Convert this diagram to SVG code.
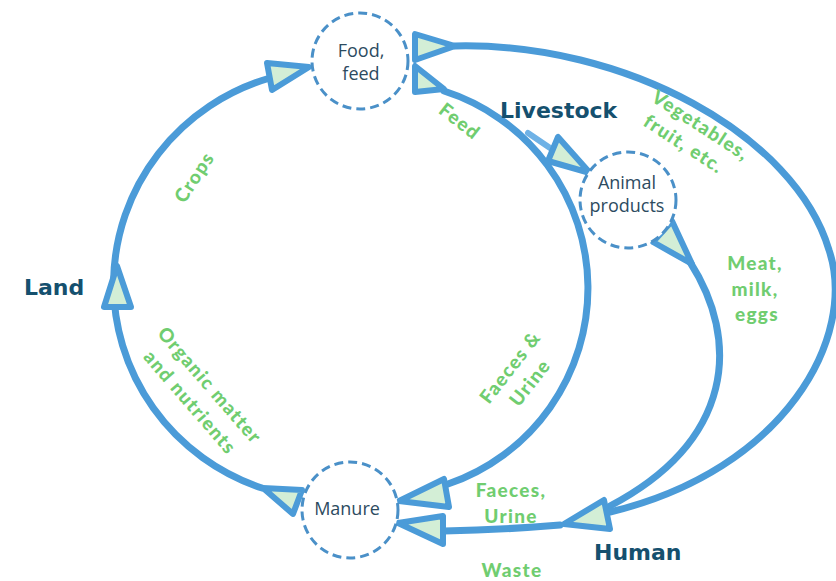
<svg xmlns="http://www.w3.org/2000/svg" width="836" height="581" viewBox="0 0 836 581">
<defs>
<style>
.conn{fill:none;stroke:#4b9bd8;stroke-width:7;stroke-linecap:round}
.branch{fill:none;stroke:#6fb2e6;stroke-width:6;stroke-linecap:round}
.head{fill:#d3eed6;stroke:#4b9bd8;stroke-width:6;stroke-linejoin:round}
.node circle{fill:#fff;stroke:#4a90c8;stroke-width:3;stroke-dasharray:9 5}
.nt{font-family:"Open Sans","DejaVu Sans",sans-serif;font-size:18px;fill:#2d4b5f;text-anchor:middle}
.lbl{font-family:Lato,"Liberation Sans",sans-serif;font-weight:900;font-size:19px;fill:#70cd70;text-anchor:middle;letter-spacing:1.3px}
.region{font-family:"DejaVu Sans",sans-serif;font-weight:bold;font-size:22px;fill:#15506e}
</style>
</defs>
<rect width="836" height="581" fill="#fff"/>
<g id="connectors">
<path class="conn" d="M262,488 A218,215 0 0 1 270,78"/>
<path class="conn" d="M444,91 A207,207 0 0 1 448,484"/>
<path class="branch" d="M528,133 L553,150"/>
<path class="conn" d="M690,262 C740,340 735,440 610,506"/>
<path class="conn" d="M455,46 C625,42 795,135 829,250 C858,337 785,470 610,512"/>
<path class="conn" d="M560,525 Q500,530 444,531"/>
<polygon class="head" points="267,63 272,90 309,67"/>
<polygon class="head" points="117,266 104,307 131,307"/>
<polygon class="head" points="263,488 302,490 293,514"/>
<polygon class="head" points="415,34 415,60 455,46"/>
<polygon class="head" points="415,66 415,92 444,89"/>
<polygon class="head" points="558,137 548,161 590,173"/>
<polygon class="head" points="672,221 653,242 692,264"/>
<polygon class="head" points="564,524 604,500 610,529"/>
<polygon class="head" points="399,501 444,479 449,507"/>
<polygon class="head" points="398,523 443,516 443,544"/>
</g>
<g id="node-food" class="node">
<circle cx="360" cy="61" r="48"/>
<text class="nt" x="361" y="57">Food,</text>
<text class="nt" x="361" y="80">feed</text>
</g>
<g id="node-animal" class="node">
<circle cx="628" cy="200" r="48"/>
<text class="nt" x="627" y="189">Animal</text>
<text class="nt" x="627" y="212">products</text>
</g>
<g id="node-manure" class="node">
<circle cx="350" cy="510" r="48"/>
<text class="nt" x="347" y="515">Manure</text>
</g>
<g id="regions">
<text class="region" x="24" y="295">Land</text>
<text class="region" x="500" y="118">Livestock</text>
<text class="region" x="594" y="560">Human</text>
</g>
<g id="labels">
<text class="lbl" transform="translate(194,177) rotate(-57)" x="0" y="7">Crops</text>
<text class="lbl" transform="translate(460,121) rotate(38)" x="0" y="7">Feed</text>
<g transform="translate(701,125) rotate(33)">
<text class="lbl" x="0" y="7">Vegetables,</text>
<text class="lbl" x="-4" y="32">fruit, etc.</text>
</g>
<text class="lbl" x="755" y="270">Meat,</text>
<text class="lbl" x="755" y="296">milk,</text>
<text class="lbl" x="757" y="321">eggs</text>
<g transform="translate(510,367) rotate(-52)">
<text class="lbl" x="0" y="7">Faeces &amp;</text>
<text class="lbl" x="0" y="32">Urine</text>
</g>
<g transform="translate(210,385) rotate(49)">
<text class="lbl" x="0" y="7">Organic matter</text>
<text class="lbl" x="0" y="33">and nutrients</text>
</g>
<text class="lbl" x="511" y="497">Faeces,</text>
<text class="lbl" x="511" y="523">Urine</text>
<text class="lbl" x="512" y="577">Waste</text>
</g>
</svg>
